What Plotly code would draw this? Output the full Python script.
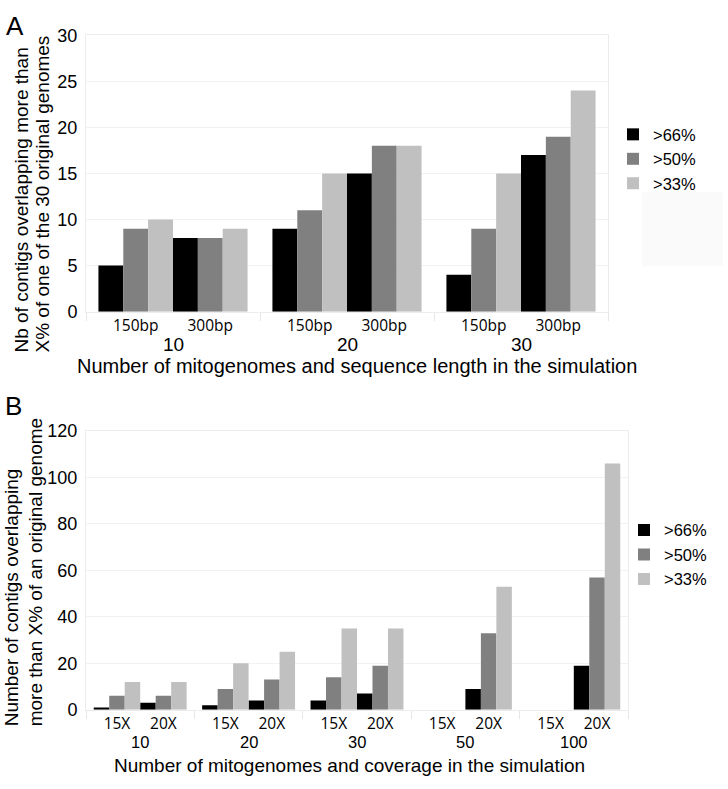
import plotly.graph_objects as go

# ---------------- data ----------------
series_names = [">66%", ">50%", ">33%"]
series_colors = ["#000000", "#808080", "#c0c0c0"]

A_groups = ["10", "20", "30"]
A_subs = ["150bp", "300bp"]
A_66 = [5, 8, 9, 15, 4, 17]
A_50 = [9, 8, 11, 18, 9, 19]
A_33 = [10, 9, 15, 18, 15, 24]

B_groups = ["10", "20", "30", "50", "100"]
B_subs = ["15X", "20X"]
B_66 = [1, 3, 2, 4, 4, 7, None, 9, None, 19]
B_50 = [6, 6, 9, 13, 14, 19, None, 33, None, 57]
B_33 = [12, 12, 20, 25, 35, 35, None, 53, None, 106]

W, H = 728, 789
FONT = "Liberation Sans, Arial, sans-serif"
TICKFONT = "Open Sans, sans-serif"


def px(xp):
    return xp / W


def py(yp):
    return 1 - yp / H


def layout_positions(groups, subs, nser):
    gw = len(subs) * nser + 1
    centers = [[] for _ in range(nser)]
    sub_centers, sub_labels, grp_centers, bounds = [], [], [], []
    for g in range(len(groups)):
        bounds.append(g * gw)
        grp_centers.append(g * gw + gw / 2)
        for s in range(len(subs)):
            start = g * gw + 0.5 + s * nser
            sub_centers.append(start + nser / 2)
            sub_labels.append(subs[s])
            for k in range(nser):
                centers[k].append(start + k + 0.5)
    bounds.append(len(groups) * gw)
    return centers, sub_centers, sub_labels, grp_centers, bounds, len(groups) * gw


fig = go.Figure()

panels = [
    dict(groups=A_groups, subs=A_subs, vals=[A_66, A_50, A_33], xa="x", ya="y",
         legend="legend"),
    dict(groups=B_groups, subs=B_subs, vals=[B_66, B_50, B_33], xa="x2", ya="y2",
         legend="legend2"),
]

info = []
for p in panels:
    centers, sc, sl, gc, bnds, xmax = layout_positions(p["groups"], p["subs"], 3)
    info.append((sc, sl, gc, bnds, xmax))
    for k in range(3):
        fig.add_trace(go.Bar(
            x=centers[k], y=p["vals"][k], width=1.0,
            name=series_names[k], marker=dict(color=series_colors[k], line=dict(width=0)),
            xaxis=p["xa"], yaxis=p["ya"], legend=p["legend"],
        ))

axcommon = dict(showline=True, linecolor="#ececec", linewidth=1, mirror=True,
                zeroline=False)

scA, slA, gcA, bA, xmaxA = info[0]
scB, slB, gcB, bB, xmaxB = info[1]

fig.update_layout(
    width=W, height=H, margin=dict(l=0, r=0, t=0, b=0),
    paper_bgcolor="white", plot_bgcolor="white",
    barmode="overlay",
    font=dict(family=FONT, color="black"),
    xaxis=dict(domain=[px(86), px(608)], range=[0, xmaxA], anchor="y",
               tickmode="array", tickvals=scA, ticktext=slA, ticks="",
               tickfont=dict(family=TICKFONT, size=15.5), showgrid=False,
               minor=dict(tickmode="array", tickvals=bA, ticks="outside", ticklen=8,
                          tickcolor="#e6e6e6", showgrid=False),
               **axcommon),
    yaxis=dict(domain=[py(309.5), py(26)], range=[0, 30], anchor="x",
               tickmode="linear", tick0=0, dtick=5, ticks="",
               tickfont=dict(size=18), ticklabelstandoff=4,
               showgrid=True, gridcolor="#f2f2f2", **axcommon),
    xaxis2=dict(domain=[px(86), px(628)], range=[0, xmaxB], anchor="y2",
                tickmode="array", tickvals=scB, ticktext=slB, ticks="",
                tickfont=dict(family=TICKFONT, size=15.5), showgrid=False,
                minor=dict(tickmode="array", tickvals=bB, ticks="outside", ticklen=8,
                           tickcolor="#e6e6e6", showgrid=False),
                **axcommon),
    yaxis2=dict(domain=[py(718), py(432)], range=[0, 120], anchor="x2",
                tickmode="linear", tick0=0, dtick=20, ticks="",
                tickfont=dict(size=18), ticklabelstandoff=4,
                showgrid=True, gridcolor="#f2f2f2", **axcommon),
    legend=dict(x=px(613), y=py(153), xanchor="left", yanchor="middle",
                font=dict(size=16.5), bgcolor="rgba(0,0,0,0)", tracegroupgap=0),
    legend2=dict(x=px(624), y=py(559), xanchor="left", yanchor="middle",
                 font=dict(size=16.5), bgcolor="rgba(0,0,0,0)", tracegroupgap=0),
    showlegend=True,
)

ann = []
# group labels
for c, g in zip(gcA, A_groups):
    ann.append(dict(x=c, xref="x", y=py(343), yref="paper", text=g, showarrow=False,
                    font=dict(size=19), xanchor="center", yanchor="middle"))
for c, g in zip(gcB, B_groups):
    ann.append(dict(x=c, xref="x2", y=py(751), yref="paper", text=g, showarrow=False,
                    font=dict(size=16.5), xanchor="center", yanchor="middle"))
# axis titles
ann.append(dict(x=px(357), y=py(365), xref="paper", yref="paper", showarrow=False,
                text="Number of mitogenomes and sequence length in the simulation",
                font=dict(size=20), xanchor="center", yanchor="middle"))
ann.append(dict(x=px(349), y=py(775), xref="paper", yref="paper", showarrow=False,
                text="Number of mitogenomes and coverage in the simulation",
                font=dict(size=19), xanchor="center", yanchor="middle"))
ann.append(dict(x=px(22), y=py(354), xref="paper", yref="paper", showarrow=False,
                text="Nb of contigs overlapping more than", textangle=-90,
                font=dict(size=19), xanchor="center", yanchor="bottom"))
ann.append(dict(x=px(43), y=py(354), xref="paper", yref="paper", showarrow=False,
                text="X% of one of the 30 original genomes", textangle=-90,
                font=dict(size=19), xanchor="center", yanchor="bottom"))
ann.append(dict(x=px(11), y=py(737), xref="paper", yref="paper", showarrow=False,
                text="Number of contigs overlapping", textangle=-90,
                font=dict(size=19), xanchor="center", yanchor="bottom"))
ann.append(dict(x=px(35), y=py(737), xref="paper", yref="paper", showarrow=False,
                text="more than X% of an original genome", textangle=-90,
                font=dict(size=19), xanchor="center", yanchor="bottom"))
# panel letters
ann.append(dict(x=px(15), y=py(16), xref="paper", yref="paper", showarrow=False,
                text="A", font=dict(size=26), xanchor="center", yanchor="middle"))
ann.append(dict(x=px(13), y=py(406), xref="paper", yref="paper", showarrow=False,
                text="B", font=dict(size=26), xanchor="center", yanchor="middle"))
fig.update_layout(annotations=ann)

# faint leftover box next to legend A
fig.add_shape(type="rect", xref="paper", yref="paper",
              x0=px(642), x1=px(723), y0=py(263), y1=py(187),
              fillcolor="#fafafa", line=dict(width=0), layer="below")

fig.write_html(
    "out.html",
    config={"displayModeBar": False},
    post_script="document.body.style.margin='0';document.body.style.overflow='hidden';",
)
